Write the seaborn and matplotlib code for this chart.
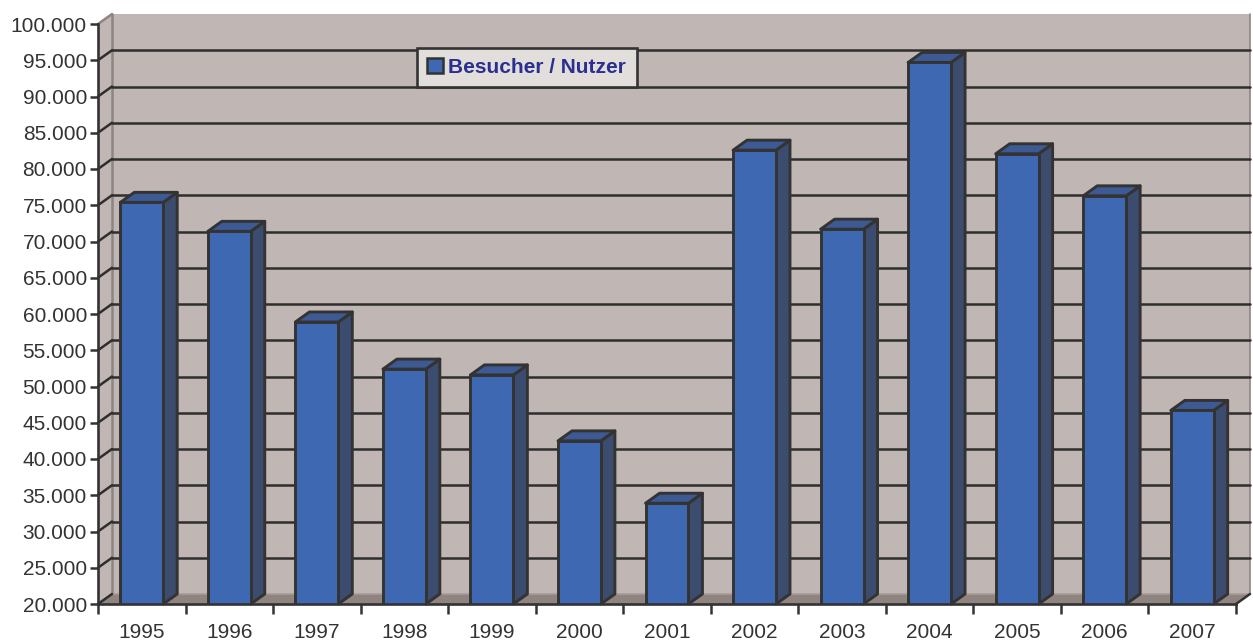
import matplotlib
matplotlib.use("Agg")
import matplotlib.pyplot as plt
from matplotlib.patches import Polygon, Patch, Rectangle
from matplotlib.ticker import FuncFormatter, FixedLocator
import seaborn as sns
import pandas as pd

# ---- data ----
years = ["1995", "1996", "1997", "1998", "1999", "2000", "2001",
         "2002", "2003", "2004", "2005", "2006", "2007"]
visitors = [75400, 71400, 58900, 52400, 51600, 42500, 33900,
            82600, 71700, 94700, 82100, 76300, 46700]
series_label = "Besucher / Nutzer"
y_ticks = list(range(20000, 100001, 5000))

# ---- style ----
sns.set_style("white")
plt.rcParams["font.family"] = ["Liberation Sans", "DejaVu Sans"]

FRONT = "#3E68B2"
SIDE = "#3B4C6E"
TOP = "#3D5A94"
EDGE = "#333333"
WALL = "#C0B7B4"
FLOOR = "#908480"
WALL_EDGE = "#8E8582"
TEXT = "#333333"

W, H = 1253, 641
fig = plt.figure(figsize=(W / 100, H / 100), dpi=100)
fig.patch.set_facecolor("white")
left_px, right_px, top_px, bottom_px = 98, 1236, 24, 604
ax = fig.add_axes([left_px / W, 1 - bottom_px / H,
                   (right_px - left_px) / W, (bottom_px - top_px) / H])
ax.set_facecolor("none")

df = pd.DataFrame({"Jahr": years, "Wert": visitors})
sns.barplot(data=df, x="Jahr", y="Wert", color=FRONT, saturation=1,
            width=0.49, edgecolor=EDGE, linewidth=2.1, ax=ax)

n = len(years)
xmin, xmax = -0.5, n - 0.5
ymin, ymax = y_ticks[0], y_ticks[-1]
ax.set_xlim(xmin, xmax)
ax.set_ylim(ymin, ymax)
ax.autoscale(False)

# depth offset (pixels -> data units)
dx = 14 / (ax.bbox.width / (xmax - xmin))
dy = 10 / (ax.bbox.height / (ymax - ymin))

# back wall
ax.add_patch(Polygon([(xmin + dx, ymin + dy), (xmax + dx, ymin + dy),
                      (xmax + dx, ymax + dy), (xmin + dx, ymax + dy)],
                     closed=True, facecolor=WALL, edgecolor="none",
                     zorder=0.1, clip_on=False))
# left wall
ax.add_patch(Polygon([(xmin, ymin), (xmin, ymax), (xmin + dx, ymax + dy),
                      (xmin + dx, ymin + dy)], closed=True, facecolor=WALL,
                     edgecolor="none", zorder=0.2, clip_on=False))
# floor
ax.add_patch(Polygon([(xmin, ymin), (xmax, ymin), (xmax + dx, ymin + dy),
                      (xmin + dx, ymin + dy)], closed=True, facecolor=FLOOR,
                     edgecolor="none", zorder=0.3, clip_on=False))
# wall edges
ax.plot([xmin + dx, xmin + dx], [ymin + dy, ymax + dy], color=WALL_EDGE,
        lw=1.8, zorder=0.35, clip_on=False)
ax.plot([xmax + dx, xmax + dx], [ymin + dy, ymax + dy], color=WALL_EDGE,
        lw=1.2, zorder=0.35, clip_on=False)
ax.plot([xmin, xmin + dx], [ymax, ymax + dy], color=WALL_EDGE,
        lw=1.8, zorder=0.35, clip_on=False)
ax.plot([xmin + dx, xmax + dx], [ymin + dy, ymin + dy], color="#A89C98",
        lw=1.2, zorder=0.35, clip_on=False)

# gridlines on back wall and diagonals on left wall
for v in y_ticks[1:-1]:
    ax.plot([xmin + dx, xmax + dx], [v + dy, v + dy], color="#2E2E2E",
            lw=1.8, zorder=0.4, clip_on=False)
for v in y_ticks[:-1]:
    ax.plot([xmin, xmin + dx], [v, v + dy], color="#2E2E2E",
            lw=1.8, zorder=0.4, clip_on=False)
ax.plot([xmax, xmax + dx], [ymin, ymin + dy], color=EDGE, lw=1.8,
        zorder=2.6, clip_on=False)

# 3D sides and tops derived from seaborn's bars
for p in ax.patches[:]:
    if not isinstance(p, Rectangle):
        continue
    x0 = p.get_x()
    x1 = x0 + p.get_width()
    t = p.get_y() + p.get_height()
    b = max(p.get_y(), ymin)
    p.set_zorder(2)
    ax.add_patch(Polygon([(x1, b), (x1, t), (x1 + dx, t + dy), (x1 + dx, b + dy)],
                         closed=True, facecolor=SIDE, edgecolor=EDGE,
                         lw=2.1, zorder=1.5, clip_on=False, joinstyle="round"))
    ax.add_patch(Polygon([(x0, t), (x1, t), (x1 + dx, t + dy), (x0 + dx, t + dy)],
                         closed=True, facecolor=TOP, edgecolor=EDGE,
                         lw=2.1, zorder=1.5, clip_on=False, joinstyle="round"))

# axes / ticks
for s in ["top", "right"]:
    ax.spines[s].set_visible(False)
for s in ["left", "bottom"]:
    ax.spines[s].set_color(EDGE)
    ax.spines[s].set_linewidth(1.9)
    ax.spines[s].set_zorder(2.7)

ax.yaxis.set_major_locator(FixedLocator(y_ticks))
ax.yaxis.set_major_formatter(FuncFormatter(lambda v, p: f"{v:,.0f}".replace(",", ".")))
ax.tick_params(axis="y", which="major", direction="out", length=6, width=1.8,
               color=EDGE, labelsize=15, labelcolor=TEXT, pad=2, left=True)
ax.set_xticks(range(n))
ax.set_xticklabels(years)
ax.set_xticks([i - 0.5 for i in range(n + 1)], minor=True)
ax.tick_params(axis="x", which="major", length=0, labelsize=15,
               labelcolor=TEXT, pad=13.5)
ax.tick_params(axis="x", which="minor", direction="out", length=7.5,
               width=1.8, color=EDGE, bottom=True)
ax.set_xlabel("")
ax.set_ylabel("")

# legend
handle = Patch(facecolor=FRONT, edgecolor=EDGE, linewidth=1.8)
leg = ax.legend(handles=[handle], labels=[series_label], loc="upper left",
                bbox_to_anchor=(417 / W, 1 - 47.5 / H),
                bbox_transform=fig.transFigure, borderaxespad=0,
                frameon=True, fancybox=False, framealpha=1,
                facecolor="#E2DEDC", edgecolor=EDGE,
                prop=dict(family="Liberation Sans", weight="bold", size=15),
                handlelength=0.75, handleheight=0.75, handletextpad=0.25,
                borderpad=0.5)
leg.get_frame().set_linewidth(1.9)
leg.set_zorder(10)
for txt in leg.get_texts():
    txt.set_color("#2B2F8F")

fig.savefig("out.png", dpi=100)
